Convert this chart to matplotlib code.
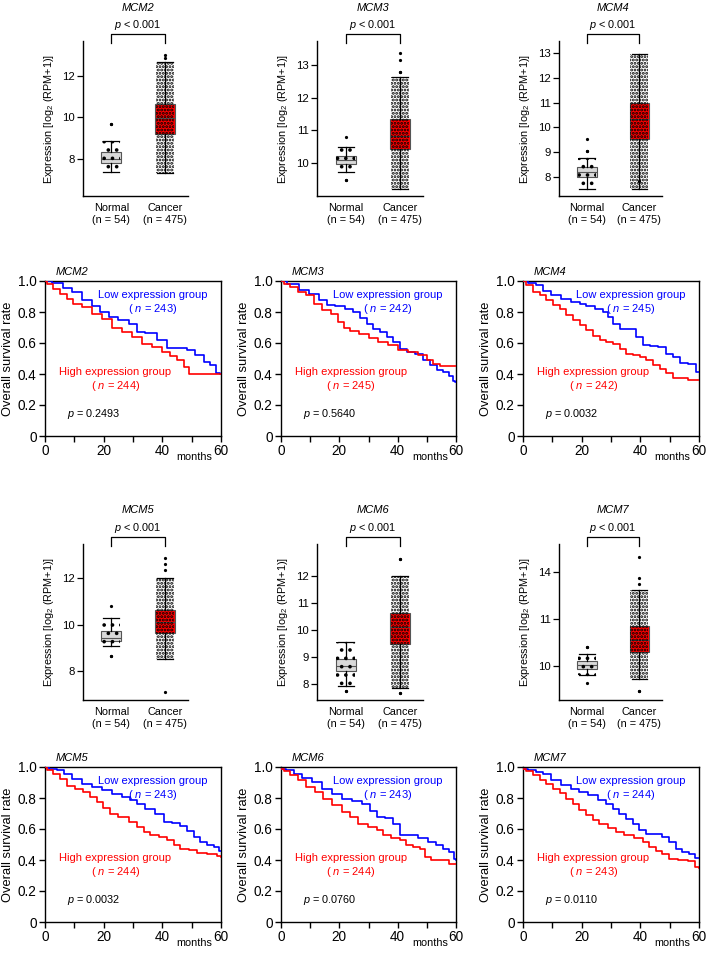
import matplotlib
matplotlib.use('Agg')
import matplotlib.pyplot as plt
import matplotlib.transforms as mtransforms
from matplotlib.patches import Rectangle

plt.rcParams['font.family'] = ['Liberation Sans', 'DejaVu Sans']
plt.rcParams['mathtext.fontset'] = 'custom'
plt.rcParams['mathtext.rm'] = 'Liberation Sans'
plt.rcParams['mathtext.it'] = 'Liberation Sans:italic'
plt.rcParams['mathtext.default'] = 'regular'
plt.rcParams['hatch.linewidth'] = 1.4

# ---------------- data: expression box plots ----------------
GROUPS = ['Normal\n(n = 54)', 'Cancer\n(n = 475)']
# stats = [whislo, q1, median, q3, whishi]
MCM2_NORMAL = [7.38, 7.78, 8.00, 8.32, 8.84]
MCM2_NORMAL_FLIERS = [9.70, 9.70]
MCM2_CANCER = [7.33, 9.19, 9.95, 10.63, 12.70]
MCM2_CANCER_FLIERS = [12.90, 13.00]
MCM2_YTICKS = [8, 10, 12]

MCM3_NORMAL = [9.72, 9.98, 10.10, 10.20, 10.49]
MCM3_NORMAL_FLIERS = [10.80, 9.47, 9.47]
MCM3_CANCER = [9.20, 10.44, 10.83, 11.35, 12.64]
MCM3_CANCER_FLIERS = [12.80, 12.80, 13.18, 13.38]
MCM3_YTICKS = [10, 11, 12, 13]

MCM4_NORMAL = [7.55, 8.03, 8.23, 8.43, 8.76]
MCM4_NORMAL_FLIERS = [9.07, 9.07, 9.55]
MCM4_CANCER = [7.52, 9.52, 10.32, 11.00, 12.93]
MCM4_CANCER_FLIERS = [7.85]
MCM4_YTICKS = [8, 9, 10, 11, 12, 13]

MCM5_NORMAL = [9.07, 9.29, 9.41, 9.70, 10.29]
MCM5_NORMAL_FLIERS = [10.78, 8.64, 8.64]
MCM5_CANCER = [8.49, 9.65, 10.12, 10.62, 12.00]
MCM5_CANCER_FLIERS = [12.36, 12.62, 12.87, 7.07]
MCM5_YTICKS = [8, 10, 12]

MCM6_NORMAL = [7.94, 8.48, 8.67, 8.94, 9.58]
MCM6_NORMAL_FLIERS = [7.77, 7.77]
MCM6_CANCER = [7.85, 9.51, 10.12, 10.64, 12.00]
MCM6_CANCER_FLIERS = [12.65, 12.65, 7.67, 7.67]
MCM6_YTICKS = [8, 9, 10, 11, 12]

MCM7_NORMAL = [9.61, 9.87, 10.04, 10.19, 10.49]
MCM7_NORMAL_FLIERS = [10.79, 10.79, 9.28]
MCM7_CANCER = [9.42, 10.58, 11.10, 11.70, 13.24]
MCM7_CANCER_FLIERS = [13.52, 13.78, 14.68, 8.90, 8.90]
MCM7_YTICKS = [10, 12, 14]
MCM7_YTICKLABELS = ['10', '11', '14']

# ---------------- data: Kaplan-Meier curves ----------------
MCM2_LOW_T = [0, 5.1, 7.4, 10.8, 14.2, 17.6, 20, 23.3, 26.8, 30.2, 32.5, 35.9, 40.4, 42.7, 47.3, 49.5, 53, 55.2, 57.5, 59.2, 60]
MCM2_LOW_S = [1.0, 0.987, 0.957, 0.93, 0.875, 0.84, 0.80, 0.77, 0.75, 0.725, 0.67, 0.667, 0.617, 0.57, 0.57, 0.553, 0.52, 0.477, 0.456, 0.406, 0.40]
MCM2_HIGH_T = [0, 1.7, 4, 6.3, 8.5, 10.8, 14.2, 17.6, 21, 24.5, 27.9, 31.3, 34.7, 38.2, 41.6, 43.8, 46.1, 48.4, 50, 60]
MCM2_HIGH_S = [1.0, 0.983, 0.95, 0.918, 0.886, 0.854, 0.832, 0.79, 0.757, 0.70, 0.67, 0.64, 0.596, 0.574, 0.54, 0.514, 0.49, 0.445, 0.40, 0.40]

MCM3_LOW_T = [0, 4.3, 7.8, 11.2, 14.6, 16.9, 20.3, 23.7, 26, 28.2, 30.5, 32.8, 35.1, 37.4, 39.7, 42, 44.2, 47.7, 50, 52.2, 54.5, 56.8, 58.5, 59.6, 60]
MCM3_LOW_S = [1.0, 0.983, 0.944, 0.918, 0.875, 0.843, 0.84, 0.82, 0.80, 0.763, 0.725, 0.69, 0.67, 0.64, 0.606, 0.563, 0.54, 0.531, 0.49, 0.456, 0.424, 0.413, 0.39, 0.355, 0.35]
MCM3_HIGH_T = [0, 2, 4.3, 7.2, 10, 12.3, 15.7, 18.6, 20.3, 22.6, 24.9, 28.3, 31.7, 35.1, 38.5, 42, 45.3, 48.8, 51.1, 53.4, 55.6, 60]
MCM3_HIGH_S = [1.0, 0.983, 0.96, 0.93, 0.907, 0.854, 0.815, 0.79, 0.735, 0.70, 0.677, 0.66, 0.632, 0.606, 0.585, 0.553, 0.542, 0.52, 0.488, 0.467, 0.45, 0.45]

MCM4_LOW_T = [0, 3.4, 5.7, 8, 11.4, 14.8, 18.2, 20.5, 22.7, 26.1, 28.4, 29.5, 31.8, 34.1, 37.5, 39.8, 42, 44.3, 47.7, 50, 52.3, 54.5, 58, 59.7, 60]
MCM4_LOW_S = [1.0, 0.987, 0.972, 0.935, 0.912, 0.886, 0.865, 0.854, 0.837, 0.817, 0.80, 0.768, 0.725, 0.69, 0.688, 0.64, 0.585, 0.578, 0.574, 0.531, 0.51, 0.47, 0.467, 0.413, 0.41]
MCM4_HIGH_T = [0, 2.3, 4.5, 6.8, 9.1, 11.4, 13.6, 15.9, 18.2, 20.5, 22.7, 25, 27.3, 29.5, 31.8, 34.1, 36.4, 38.6, 40.9, 43.2, 45.5, 47.7, 50, 52.3, 55.7, 56.8, 60]
MCM4_HIGH_S = [1.0, 0.972, 0.93, 0.907, 0.875, 0.843, 0.82, 0.778, 0.75, 0.714, 0.682, 0.643, 0.62, 0.606, 0.596, 0.563, 0.531, 0.52, 0.51, 0.488, 0.456, 0.434, 0.406, 0.376, 0.376, 0.36, 0.36]

MCM5_LOW_T = [0, 2.8, 5.7, 7.4, 10.8, 14.2, 17.7, 21, 24.5, 27.9, 30.2, 32.5, 35.9, 39.3, 41.6, 45, 47.3, 49.5, 51.8, 54.1, 56.4, 58.7, 59.8, 60]
MCM5_LOW_S = [1.0, 0.989, 0.978, 0.957, 0.925, 0.892, 0.87, 0.85, 0.826, 0.806, 0.79, 0.76, 0.73, 0.70, 0.645, 0.636, 0.62, 0.59, 0.55, 0.516, 0.495, 0.485, 0.457, 0.455]
MCM5_HIGH_T = [0, 1.7, 4, 6.3, 8.5, 12, 14.2, 16.5, 18.8, 21, 23.3, 26.8, 30.2, 32.5, 34.7, 37, 40.4, 42.7, 45, 47.3, 50.7, 53, 57.5, 59.8, 60]
MCM5_HIGH_S = [1.0, 0.983, 0.953, 0.92, 0.88, 0.86, 0.84, 0.806, 0.774, 0.737, 0.70, 0.677, 0.645, 0.613, 0.58, 0.56, 0.55, 0.527, 0.495, 0.473, 0.462, 0.445, 0.44, 0.425, 0.42]

MCM6_LOW_T = [0, 3.2, 5.5, 8.9, 12.3, 15.7, 19.1, 22.5, 25.9, 29.3, 31.6, 33.9, 37.3, 39.5, 41.8, 45.2, 48.6, 52, 54.3, 56.6, 58.9, 59.8, 60]
MCM6_LOW_S = [0.99, 0.983, 0.957, 0.931, 0.903, 0.86, 0.828, 0.796, 0.78, 0.763, 0.716, 0.677, 0.673, 0.634, 0.56, 0.56, 0.544, 0.516, 0.50, 0.473, 0.45, 0.409, 0.40]
MCM6_HIGH_T = [0, 2, 4.3, 7.2, 10, 13.4, 15.7, 19.1, 22.5, 24.8, 28.2, 31.6, 33.9, 36.1, 39.5, 41.8, 44.1, 46.4, 48.6, 49.8, 53.2, 56.6, 58.9, 60]
MCM6_HIGH_S = [0.99, 0.974, 0.946, 0.918, 0.871, 0.839, 0.796, 0.753, 0.71, 0.677, 0.634, 0.613, 0.591, 0.56, 0.544, 0.527, 0.495, 0.484, 0.473, 0.419, 0.398, 0.398, 0.376, 0.376]

MCM7_LOW_T = [0, 3.4, 5.7, 7.9, 11.3, 14.7, 18.1, 20.4, 23.8, 27.2, 29.4, 31.7, 34, 36.2, 38.5, 40.8, 43, 46.4, 48.7, 51, 53.2, 55.5, 57.8, 59.8, 60]
MCM7_LOW_S = [0.99, 0.983, 0.968, 0.957, 0.914, 0.882, 0.86, 0.839, 0.817, 0.789, 0.763, 0.731, 0.70, 0.667, 0.634, 0.591, 0.57, 0.566, 0.548, 0.516, 0.473, 0.452, 0.437, 0.415, 0.41]
MCM7_HIGH_T = [0, 2.3, 4.5, 6.8, 9.1, 11.3, 13.6, 15.9, 18.1, 20.4, 22.6, 24.9, 27.2, 30.6, 32.8, 36.2, 39.6, 41.9, 44.2, 46.4, 48.7, 51, 54.4, 57.8, 59.8, 60]
MCM7_HIGH_S = [0.99, 0.974, 0.946, 0.918, 0.892, 0.86, 0.832, 0.796, 0.759, 0.72, 0.688, 0.656, 0.63, 0.609, 0.58, 0.56, 0.544, 0.516, 0.484, 0.458, 0.44, 0.409, 0.398, 0.394, 0.355, 0.35]

N_LOW = {'MCM2': 243, 'MCM3': 242, 'MCM4': 245, 'MCM5': 243, 'MCM6': 243, 'MCM7': 244}
N_HIGH = {'MCM2': 244, 'MCM3': 245, 'MCM4': 242, 'MCM5': 244, 'MCM6': 244, 'MCM7': 243}
P_VALUES = {'MCM2': '0.2493', 'MCM3': '0.5640', 'MCM4': '0.0032',
            'MCM5': '0.0032', 'MCM6': '0.0760', 'MCM7': '0.0110'}
KM_XTICKS = [0, 20, 40, 60]
KM_XMINOR = [10, 30, 50]
KM_YTICKS = [0, 0.2, 0.4, 0.6, 0.8, 1.0]
KM_YTICKLABELS = ['0', '0.2', '0.4', '0.6', '0.8', '1.0']

# ---------------- figure ----------------
W, H = 709, 959
fig = plt.figure(figsize=(W / 100, H / 100), dpi=100)


def rect(x0, x1, y0, y1):
    return [x0 / W, 1 - y1 / H, (x1 - x0) / W, (y1 - y0) / H]


POS = [1, 2]


def box_panel(r, gene, nst, nfl, cst, cfl, ylim, yticks, yticklabels=None):
    ax = fig.add_axes(r)
    stats = []
    for st, fl in ((nst, nfl), (cst, cfl)):
        stats.append(dict(whislo=st[0], q1=st[1], med=st[2], q3=st[3], whishi=st[4], fliers=fl))
    bp = ax.bxp(stats, positions=POS, widths=0.37, patch_artist=True, showfliers=True,
                capwidths=0.30,
                boxprops=dict(edgecolor='#555555', linewidth=0.8),
                medianprops=dict(color='#555555', linewidth=0.8),
                whiskerprops=dict(color='black', linewidth=0.9),
                capprops=dict(color='black', linewidth=0.9),
                flierprops=dict(marker='o', markersize=1.3, markerfacecolor='black',
                                markeredgecolor='black', linestyle='none'))
    bp['boxes'][0].set_facecolor('#d9d9d9')
    bp['boxes'][1].set_facecolor('#ff0000')
    for b in bp['boxes']:
        b.set_zorder(2)
    # texture imitating the overlaid individual sample dots
    for pos, st, hatch in zip(POS, (nst, cst), ('..', '.....')):
        ax.add_patch(Rectangle((pos - 0.17, st[0]), 0.34, st[4] - st[0], fill=False,
                               hatch=hatch, linewidth=0, edgecolor='black', zorder=2.5))
    ax.set_xlim(0.47, 2.43)
    ax.set_ylim(*ylim)
    ax.set_yticks(yticks)
    if yticklabels is not None:
        ax.set_yticklabels(yticklabels)
    ax.set_xticks(POS)
    ax.set_xticklabels(GROUPS, fontsize=7.8, linespacing=1.25)
    ax.tick_params(axis='x', length=0, pad=5)
    ax.tick_params(axis='y', direction='out', length=4, width=0.9, labelsize=8.2, pad=2)
    for s in ('top', 'right'):
        ax.spines[s].set_visible(False)
    for s in ('left', 'bottom'):
        ax.spines[s].set_linewidth(1.0)
    ax.set_ylabel('Expression [log$_{2}$ (RPM+1)]', fontsize=7.8, labelpad=4)
    tr = mtransforms.blended_transform_factory(ax.transData, ax.transAxes)
    ax.plot([1, 1, 2, 2], [0.985, 1.045, 1.045, 0.985], transform=tr, color='black',
            linewidth=0.9, clip_on=False)
    ax.text(1.5, 1.105, r'$\mathit{p}$ < 0.001', transform=tr, ha='center', va='center',
            fontsize=7.8)
    ax.text(1.5, 1.215, gene, transform=tr, ha='center', va='center', fontsize=8,
            style='italic')
    return ax


def km_panel(r, gene, lt, ls, ht, hs):
    ax = fig.add_axes(r)
    ax.step(lt, ls, where='mid', color='#0000ff', linewidth=1.2, zorder=3)
    ax.step(ht, hs, where='mid', color='#ff0000', linewidth=1.2, zorder=3)
    ax.set_xlim(0, 60)
    ax.set_ylim(0, 1)
    ax.set_xticks(KM_XTICKS)
    ax.set_xticks(KM_XMINOR, minor=True)
    ax.set_yticks(KM_YTICKS)
    ax.set_yticklabels(KM_YTICKLABELS)
    ax.tick_params(which='both', direction='out', length=4, width=1.0, labelsize=9.8, pad=2)
    for s in ax.spines.values():
        s.set_linewidth(1.0)
    ax.set_ylabel('Overall survival rate', fontsize=9.3, labelpad=3)
    ax.text(0.06, 1.025, gene, transform=ax.transAxes, ha='left', va='bottom',
            fontsize=8, style='italic')
    ax.text(0.61, 0.91, 'Low expression group', transform=ax.transAxes, ha='center',
            va='center', color='#0000ff', fontsize=8)
    ax.text(0.61, 0.82, '( $\\mathit{n}$ = %d)' % N_LOW[gene], transform=ax.transAxes,
            ha='center', va='center', color='#0000ff', fontsize=8)
    ax.text(0.40, 0.41, 'High expression group', transform=ax.transAxes, ha='center',
            va='center', color='#ff0000', fontsize=8)
    ax.text(0.40, 0.32, '( $\\mathit{n}$ = %d)' % N_HIGH[gene], transform=ax.transAxes,
            ha='center', va='center', color='#ff0000', fontsize=8)
    ax.text(0.125, 0.14, '$\\mathit{p}$ = ' + P_VALUES[gene], transform=ax.transAxes,
            ha='left', va='center', fontsize=7.8)
    ax.text(0.85, -0.135, 'months', transform=ax.transAxes, ha='center', va='center',
            fontsize=7.8)
    return ax


BOX_COLS = [(83, 188), (317, 423), (559, 662)]
BOX_ROWS = [(41, 196), (544, 700)]
KM_COLS = [(45, 221), (281, 456), (523, 699)]
KM_ROWS = [(281, 436), (767, 922)]

box_panel(rect(*BOX_COLS[0], *BOX_ROWS[0]), 'MCM2', MCM2_NORMAL, MCM2_NORMAL_FLIERS,
          MCM2_CANCER, MCM2_CANCER_FLIERS, (6.2, 13.7), MCM2_YTICKS)
box_panel(rect(*BOX_COLS[1], *BOX_ROWS[0]), 'MCM3', MCM3_NORMAL, MCM3_NORMAL_FLIERS,
          MCM3_CANCER, MCM3_CANCER_FLIERS, (8.98, 13.75), MCM3_YTICKS)
box_panel(rect(*BOX_COLS[2], *BOX_ROWS[0]), 'MCM4', MCM4_NORMAL, MCM4_NORMAL_FLIERS,
          MCM4_CANCER, MCM4_CANCER_FLIERS, (7.25, 13.47), MCM4_YTICKS)
box_panel(rect(*BOX_COLS[0], *BOX_ROWS[1]), 'MCM5', MCM5_NORMAL, MCM5_NORMAL_FLIERS,
          MCM5_CANCER, MCM5_CANCER_FLIERS, (6.74, 13.48), MCM5_YTICKS)
box_panel(rect(*BOX_COLS[1], *BOX_ROWS[1]), 'MCM6', MCM6_NORMAL, MCM6_NORMAL_FLIERS,
          MCM6_CANCER, MCM6_CANCER_FLIERS, (7.42, 13.2), MCM6_YTICKS)
box_panel(rect(*BOX_COLS[2], *BOX_ROWS[1]), 'MCM7', MCM7_NORMAL, MCM7_NORMAL_FLIERS,
          MCM7_CANCER, MCM7_CANCER_FLIERS, (8.53, 15.22), MCM7_YTICKS, MCM7_YTICKLABELS)

km_panel(rect(*KM_COLS[0], *KM_ROWS[0]), 'MCM2', MCM2_LOW_T, MCM2_LOW_S, MCM2_HIGH_T, MCM2_HIGH_S)
km_panel(rect(*KM_COLS[1], *KM_ROWS[0]), 'MCM3', MCM3_LOW_T, MCM3_LOW_S, MCM3_HIGH_T, MCM3_HIGH_S)
km_panel(rect(*KM_COLS[2], *KM_ROWS[0]), 'MCM4', MCM4_LOW_T, MCM4_LOW_S, MCM4_HIGH_T, MCM4_HIGH_S)
km_panel(rect(*KM_COLS[0], *KM_ROWS[1]), 'MCM5', MCM5_LOW_T, MCM5_LOW_S, MCM5_HIGH_T, MCM5_HIGH_S)
km_panel(rect(*KM_COLS[1], *KM_ROWS[1]), 'MCM6', MCM6_LOW_T, MCM6_LOW_S, MCM6_HIGH_T, MCM6_HIGH_S)
km_panel(rect(*KM_COLS[2], *KM_ROWS[1]), 'MCM7', MCM7_LOW_T, MCM7_LOW_S, MCM7_HIGH_T, MCM7_HIGH_S)

fig.savefig('out.png', dpi=100, facecolor='white')
